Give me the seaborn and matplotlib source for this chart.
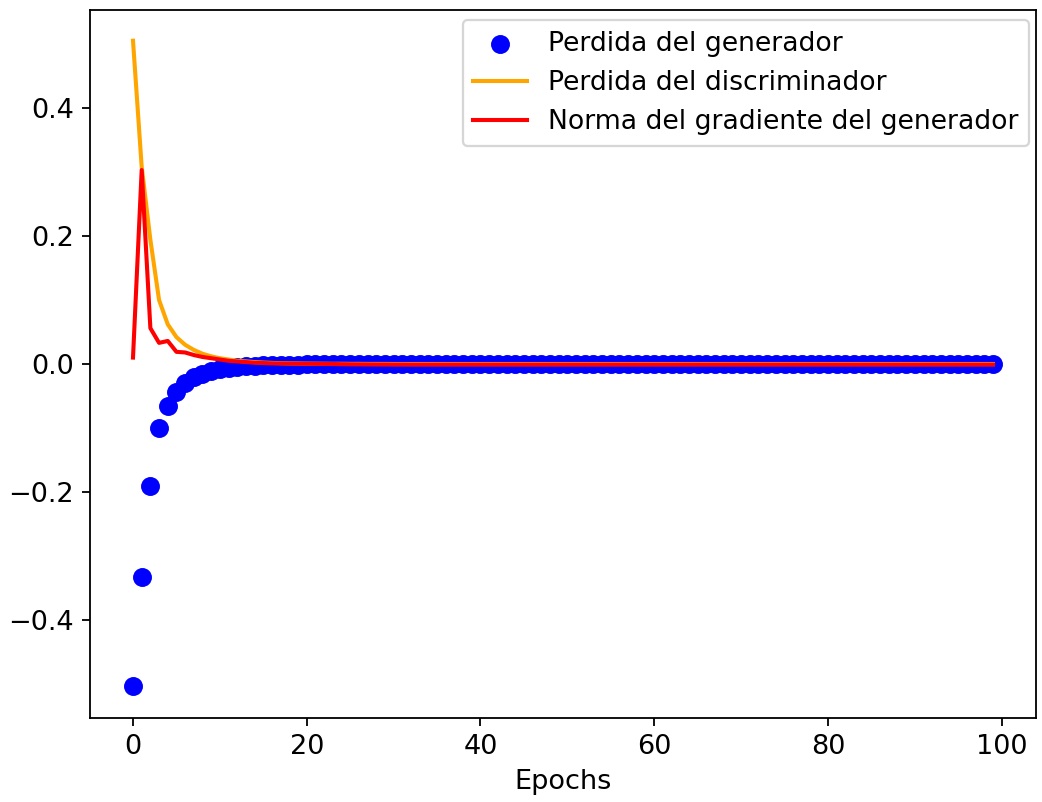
import matplotlib
matplotlib.use("Agg")
import matplotlib.pyplot as plt
import seaborn as sns
import numpy as np
import pandas as pd

epochs = list(range(100))

gen_loss = [
    -0.503, -0.333, -0.190, -0.100, -0.066, -0.044, -0.030, -0.021, -0.015, -0.011,
    -0.008, -0.006, -0.0045, -0.0035, -0.0027, -0.002, -0.0016, -0.0012, -0.001, -0.0008,
    -0.0006, -0.0005, -0.0004, -0.0003, -0.0003, -0.0002, -0.0002, -0.0001, -0.0001, -0.0001,
    0.0, 0.0, 0.0, 0.0, 0.0, 0.0, 0.0, 0.0, 0.0, 0.0,
    0.0, 0.0, 0.0, 0.0, 0.0, 0.0, 0.0, 0.0, 0.0, 0.0,
    0.0, 0.0, 0.0, 0.0, 0.0, 0.0, 0.0, 0.0, 0.0, 0.0,
    0.0, 0.0, 0.0, 0.0, 0.0, 0.0, 0.0, 0.0, 0.0, 0.0,
    0.0, 0.0, 0.0, 0.0, 0.0, 0.0, 0.0, 0.0, 0.0, 0.0,
    0.0, 0.0, 0.0, 0.0, 0.0, 0.0, 0.0, 0.0, 0.0, 0.0,
    0.0, 0.0, 0.0, 0.0, 0.0, 0.0, 0.0, 0.0, 0.0, 0.0,
]

disc_loss = [
    0.505, 0.308, 0.194, 0.100, 0.062, 0.042, 0.030, 0.022, 0.016, 0.012,
    0.009, 0.007, 0.005, 0.004, 0.003, 0.0022, 0.0017, 0.0013, 0.001, 0.0008,
    0.0006, 0.0005, 0.0004, 0.0003, 0.0003, 0.0002, 0.0002, 0.0001, 0.0001, 0.0001,
    0.0, 0.0, 0.0, 0.0, 0.0, 0.0, 0.0, 0.0, 0.0, 0.0,
    0.0, 0.0, 0.0, 0.0, 0.0, 0.0, 0.0, 0.0, 0.0, 0.0,
    0.0, 0.0, 0.0, 0.0, 0.0, 0.0, 0.0, 0.0, 0.0, 0.0,
    0.0, 0.0, 0.0, 0.0, 0.0, 0.0, 0.0, 0.0, 0.0, 0.0,
    0.0, 0.0, 0.0, 0.0, 0.0, 0.0, 0.0, 0.0, 0.0, 0.0,
    0.0, 0.0, 0.0, 0.0, 0.0, 0.0, 0.0, 0.0, 0.0, 0.0,
    0.0, 0.0, 0.0, 0.0, 0.0, 0.0, 0.0, 0.0, 0.0, 0.0,
]

grad_norm = [
    0.010, 0.303, 0.056, 0.033, 0.036, 0.019, 0.018, 0.014, 0.011, 0.009,
    0.007, 0.005, 0.004, 0.003, 0.002, 0.0015, 0.001, 0.0008, 0.0006, 0.0004,
    0.0003, 0.0002, 0.0001, 0.0, -0.0003, -0.0005, -0.0006, -0.0007, -0.0008, -0.0008,
    -0.0009, -0.0009, -0.001, -0.001, -0.001, -0.001, -0.001, -0.001, -0.001, -0.001,
    -0.001, -0.001, -0.001, -0.001, -0.001, -0.001, -0.001, -0.001, -0.001, -0.001,
    -0.001, -0.001, -0.001, -0.001, -0.001, -0.001, -0.001, -0.001, -0.001, -0.001,
    -0.001, -0.001, -0.001, -0.001, -0.001, -0.001, -0.001, -0.001, -0.001, -0.001,
    -0.001, -0.001, -0.001, -0.001, -0.001, -0.001, -0.001, -0.001, -0.001, -0.001,
    -0.001, -0.001, -0.001, -0.001, -0.001, -0.001, -0.001, -0.001, -0.001, -0.001,
    -0.001, -0.001, -0.001, -0.001, -0.001, -0.001, -0.001, -0.001, -0.001, -0.001,
]

labels = ["Perdida del generador", "Perdida del discriminador",
          "Norma del gradiente del generador"]

df = pd.DataFrame({"epoch": epochs, "gen": gen_loss, "disc": disc_loss, "grad": grad_norm})

plt.rcParams["font.family"] = ["DejaVu Sans"]
plt.rcParams["font.size"] = 12
dpi = 163
fig, ax = plt.subplots(figsize=(1042 / dpi, 802 / dpi), dpi=dpi)
fig.subplots_adjust(left=90 / 1042, right=1036 / 1042, top=1 - 10 / 802, bottom=1 - 718 / 802)

sns.scatterplot(data=df, x="epoch", y="gen", ax=ax, color="blue", s=70,
                linewidth=0, label=labels[0], zorder=1)
sns.lineplot(data=df, x="epoch", y="disc", ax=ax, color="orange", linewidth=1.8,
             label=labels[1], zorder=2)
sns.lineplot(data=df, x="epoch", y="grad", ax=ax, color="red", linewidth=1.8,
             label=labels[2], zorder=3)

ax.set_xlabel("Epochs", fontsize=12)
ax.set_ylabel("")
ax.set_xticks([0, 20, 40, 60, 80, 100])
ax.set_yticks([-0.4, -0.2, 0.0, 0.2, 0.4])
ax.tick_params(labelsize=12)
ax.set_xlim(-4.95, 103.95)
ax.set_ylim(-0.553, 0.553)
ax.legend(loc="upper right", fontsize=11.75, bbox_to_anchor=(0.9926, 0.9859),
          borderaxespad=0)

fig.savefig("out.png", dpi=dpi)
